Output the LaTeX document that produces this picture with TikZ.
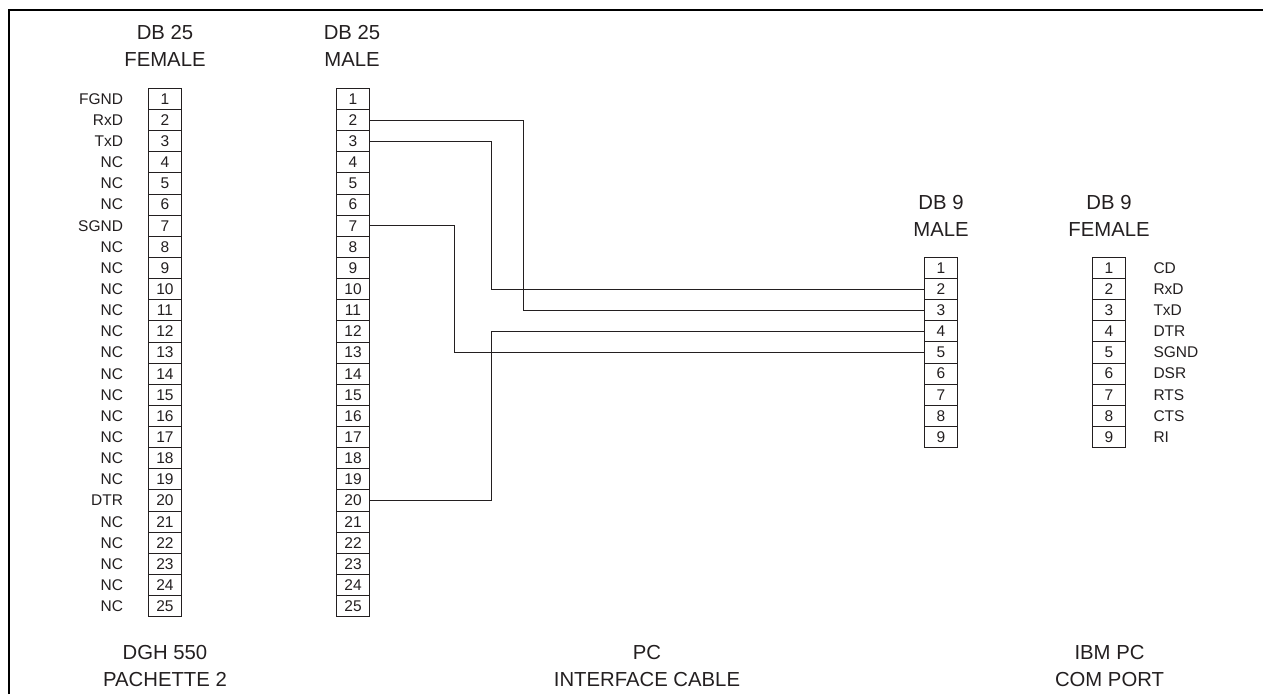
\documentclass[tikz,border=0pt]{standalone}
\usepackage{fontspec}
\setmainfont{Liberation Sans}
\usetikzlibrary{positioning}
\definecolor{ink}{HTML}{231F20}
\tikzstyle{every node} = [
		font = \fontsize{15.5}{18}\selectfont,
		text = ink,
		outer sep = 0pt,
	]
\tikzstyle{pin} = [
		rectangle,
		minimum width = 33pt,
		minimum height = 21.14pt,
		inner sep = 0pt,
		draw = ink,
		line width = 1pt,
		fill = none,
		text centered
	]
\tikzstyle{signal} = [
		inner sep = 0pt
	]
\tikzstyle{heading} = [
		font = \fontsize{20.3}{26.3}\selectfont,
		align = center,
		inner sep = 0pt
	]
\tikzstyle{wire} = [
		draw = ink,
		line width = 1pt
	]

\begin{document}
\begin{tikzpicture}[x = 1pt, y = -1pt]
		\useasboundingbox (0,0) rectangle (1263,694);

		%------------------------------Frame------------------------------
		\coordinate (frameBL) at (9.3,694);
		\coordinate (frameTL) at (9.3,10);
		\coordinate (frameTR) at (1263,10);
		\draw [line width = 2pt, black] (frameBL) -- (frameTL) -- (frameTR);

		%------------------------------Headings------------------------------
		\node [heading] (headF25) at (165,46) {DB 25\\FEMALE};
		\node [heading] (headM25) at (352,46) {DB 25\\MALE};
		\node [heading] (headM9) at (941,215.8) {DB 9\\MALE};
		\node [heading] (headF9) at (1109,215.8) {DB 9\\FEMALE};
		\node [heading] (footDgh) at (165,666) {DGH 550\\PACHETTE 2};
		\node [heading] (footCable) at (647,666) {PC\\INTERFACE CABLE};
		\node [heading] (footIbm) at (1109.5,666) {IBM PC\\COM PORT};

		%------------------------------DB 25------------------------------
		\foreach \n/\sig in {1/FGND,2/RxD,3/TxD,4/NC,5/NC,6/NC,7/SGND,8/NC,9/NC,10/NC,
				11/NC,12/NC,13/NC,14/NC,15/NC,16/NC,17/NC,18/NC,19/NC,20/DTR,
				21/NC,22/NC,23/NC,24/NC,25/NC} {
			\node [pin] (f\n) at (165,{98.9+21.14*(\n-1)}) {\n};
			\node [pin] (m\n) at (353,{98.9+21.14*(\n-1)}) {\n};
			\node [signal, left = 25.5pt of f\n] (fs\n) {\sig};
		}

		%------------------------------DB 9------------------------------
		\foreach \n/\sig in {1/CD,2/RxD,3/TxD,4/DTR,5/SGND,6/DSR,7/RTS,8/CTS,9/RI} {
			\node [pin] (p\n) at (941,{267.9+21.14*(\n-1)}) {\n};
			\node [pin] (s\n) at (1109,{267.9+21.14*(\n-1)}) {\n};
			\node [signal, right = 28pt of s\n] (ss\n) {\sig};
		}

		%------------------------------Wires------------------------------
		\coordinate (busOut) at (523.7,0);
		\coordinate (busIn) at (491.7,0);
		\coordinate (busGnd) at (454.5,0);
		\draw [wire] (m2.east) -| (busOut |- p3.west) -- (p3.west);
		\draw [wire] (m3.east) -| (busIn |- p2.west) -- (p2.west);
		\draw [wire] (m7.east) -| (busGnd |- p5.west) -- (p5.west);
		\draw [wire] (m20.east) -| (busIn |- p4.west) -- (p4.west);

	\end{tikzpicture}
\end{document}
